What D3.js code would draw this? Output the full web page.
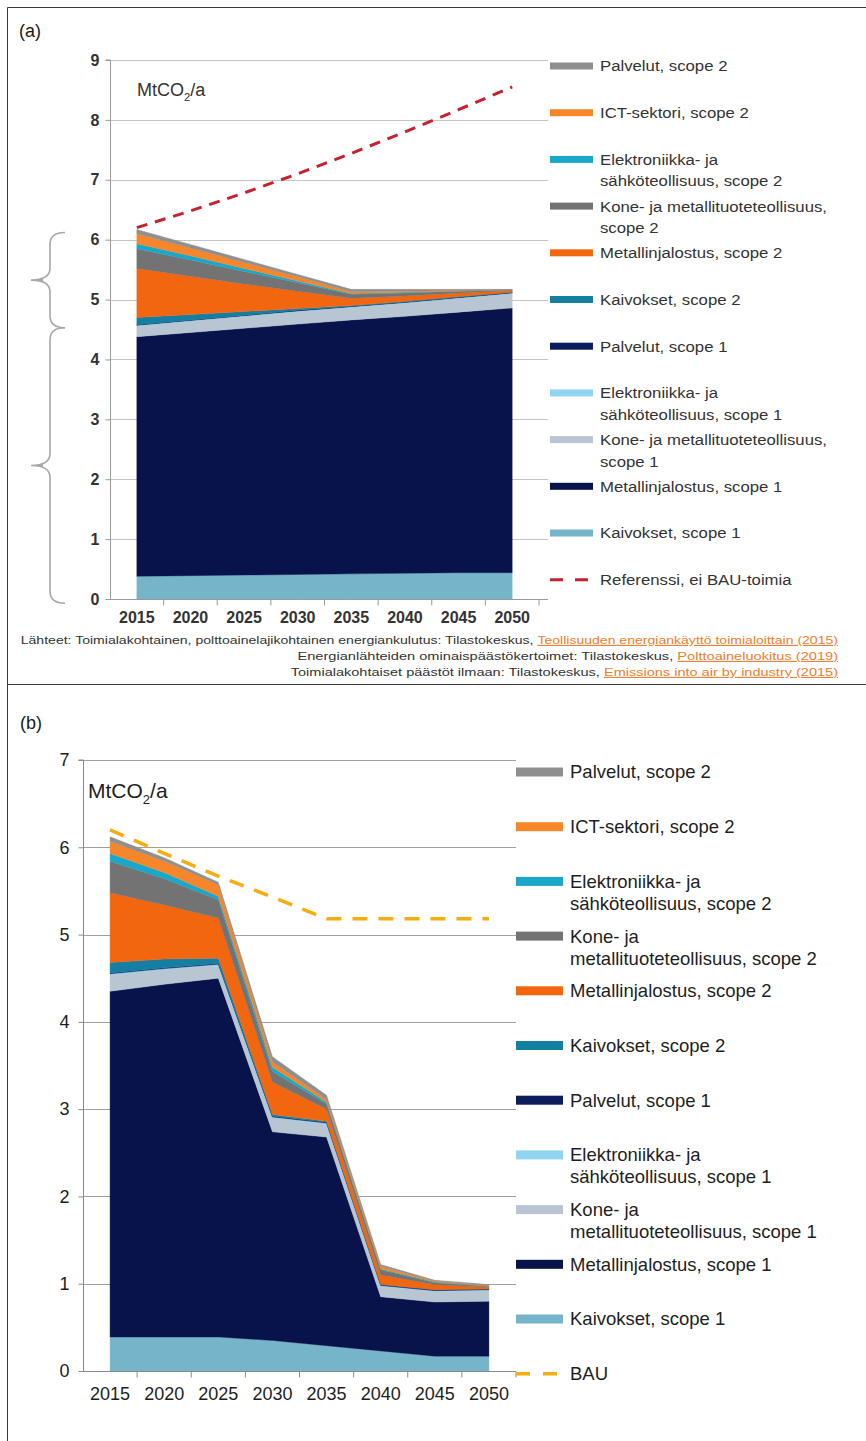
<!DOCTYPE html>
<html>
<head>
<meta charset="utf-8">
<script src="https://cdn.jsdelivr.net/npm/d3@7"></script>
<style>
  body { margin: 0; background: #fff; }
  svg { display: block; font-family: "Liberation Sans", Arial, Helvetica, sans-serif; }
</style>
</head>
<body>
<svg id="fig" width="866" height="1441"></svg>
<script>
// ---- categories ----
const years = ["2015", "2020", "2025", "2030", "2035", "2040", "2045", "2050"];

// ---- series keys, stacking order bottom -> top ----
const seriesKeys = ["kaiv1", "metj1", "kone1", "elek1", "palv1", "kaiv2", "metj2", "kone2", "elek2", "ict2", "palv2"];

// ---- (a) reference path, MtCO2/a per series ----
const aKaivokset1   = [0.38, 0.39, 0.40, 0.41, 0.42, 0.43, 0.44, 0.44];
const aMetalli1     = [4.00, 4.06, 4.12, 4.18, 4.24, 4.29, 4.35, 4.42];
const aKone1        = [0.18, 0.19, 0.20, 0.21, 0.21, 0.22, 0.23, 0.24];
const aElektro1     = [0.01, 0.01, 0.01, 0.01, 0.01, 0.01, 0.01, 0.01];
const aPalvelut1    = [0.01, 0.01, 0.01, 0.01, 0.01, 0.01, 0.01, 0.01];
const aKaivokset2   = [0.12, 0.09, 0.06, 0.03, 0.01, 0.01, 0.01, 0.00];
const aMetalli2     = [0.82, 0.64, 0.46, 0.29, 0.12, 0.09, 0.06, 0.03];
const aKone2        = [0.33, 0.27, 0.21, 0.14, 0.07, 0.05, 0.03, 0.01];
const aElektro2     = [0.08, 0.07, 0.05, 0.03, 0.01, 0.01, 0.00, 0.00];
const aIct2         = [0.17, 0.13, 0.10, 0.07, 0.03, 0.02, 0.01, 0.00];
const aPalvelut2    = [0.07, 0.06, 0.05, 0.04, 0.04, 0.03, 0.02, 0.01];
const aReferenssi   = [6.20, 6.48, 6.78, 7.10, 7.44, 7.80, 8.17, 8.55];

// ---- (b) with measures, MtCO2/a per series ----
const bKaivokset1   = [0.39, 0.39, 0.39, 0.35, 0.29, 0.23, 0.17, 0.17];
const bMetalli1     = [3.96, 4.04, 4.11, 2.39, 2.39, 0.62, 0.62, 0.63];
const bKone1        = [0.19, 0.17, 0.15, 0.16, 0.15, 0.12, 0.12, 0.12];
const bElektro1     = [0.01, 0.01, 0.01, 0.01, 0.01, 0.01, 0.01, 0.01];
const bPalvelut1    = [0.01, 0.01, 0.01, 0.01, 0.01, 0.01, 0.01, 0.01];
const bKaivokset2   = [0.12, 0.10, 0.06, 0.02, 0.01, 0.00, 0.00, 0.00];
const bMetalli2     = [0.80, 0.62, 0.46, 0.37, 0.14, 0.11, 0.06, 0.02];
const bKone2        = [0.36, 0.30, 0.21, 0.12, 0.06, 0.06, 0.02, 0.01];
const bElektro2     = [0.09, 0.07, 0.04, 0.05, 0.02, 0.01, 0.01, 0.00];
const bIct2         = [0.14, 0.13, 0.13, 0.06, 0.03, 0.03, 0.01, 0.01];
const bPalvelut2    = [0.05, 0.04, 0.03, 0.06, 0.05, 0.02, 0.01, 0.01];
const bBau          = [6.20, 5.93, 5.67, 5.43, 5.18, 5.18, 5.18, 5.18];

// ---- y-axis tick labels ----
const aTicks = [0, 1, 2, 3, 4, 5, 6, 7, 8, 9];
const bTicks = [0, 1, 2, 3, 4, 5, 6, 7];

// ---- legend labels (top -> bottom), line breaks as drawn ----
const aLegendLabels = [
  ["Palvelut, scope 2"],
  ["ICT-sektori, scope 2"],
  ["Elektroniikka- ja", "sähköteollisuus, scope 2"],
  ["Kone- ja metallituoteteollisuus,", "scope 2"],
  ["Metallinjalostus, scope 2"],
  ["Kaivokset, scope 2"],
  ["Palvelut, scope 1"],
  ["Elektroniikka- ja", "sähköteollisuus, scope 1"],
  ["Kone- ja metallituoteteollisuus,", "scope 1"],
  ["Metallinjalostus, scope 1"],
  ["Kaivokset, scope 1"],
  ["Referenssi, ei BAU-toimia"]
];
const bLegendLabels = [
  ["Palvelut, scope 2"],
  ["ICT-sektori, scope 2"],
  ["Elektroniikka- ja", "sähköteollisuus, scope 2"],
  ["Kone- ja", "metallituoteteollisuus, scope 2"],
  ["Metallinjalostus, scope 2"],
  ["Kaivokset, scope 2"],
  ["Palvelut, scope 1"],
  ["Elektroniikka- ja", "sähköteollisuus, scope 1"],
  ["Kone- ja", "metallituoteteollisuus, scope 1"],
  ["Metallinjalostus, scope 1"],
  ["Kaivokset, scope 1"],
  ["BAU"]
];

// ---- source notes under (a) ----
const sourceLines = [
  ["Lähteet: Toimialakohtainen, polttoainelajikohtainen energiankulutus: Tilastokeskus, ", "Teollisuuden energiankäyttö toimialoittain (2015)"],
  ["Energianlähteiden ominaispäästökertoimet: Tilastokeskus, ", "Polttoaineluokitus (2019)"],
  ["Toimialakohtaiset päästöt ilmaan: Tilastokeskus, ", "Emissions into air by industry (2015)"]
];

// ---- colours per series ----
const seriesColors = {
  kaiv1: "#76b4c9",
  metj1: "#07134a",
  kone1: "#b7c6d2",
  elek1: "#90d5ef",
  palv1: "#0b1d5c",
  kaiv2: "#157fa1",
  metj2: "#f2660f",
  kone2: "#737373",
  elek2: "#1ba7c9",
  ict2:  "#f7862b",
  palv2: "#8f8f8f"
};

function buildRows(cols) {
  return years.map((yr, i) => {
    const row = { year: yr };
    seriesKeys.forEach(k => { row[k] = cols[k][i]; });
    return row;
  });
}

const aRows = buildRows({
  kaiv1: aKaivokset1, metj1: aMetalli1, kone1: aKone1, elek1: aElektro1, palv1: aPalvelut1,
  kaiv2: aKaivokset2, metj2: aMetalli2, kone2: aKone2, elek2: aElektro2, ict2: aIct2, palv2: aPalvelut2
});
const bRows = buildRows({
  kaiv1: bKaivokset1, metj1: bMetalli1, kone1: bKone1, elek1: bElektro1, palv1: bPalvelut1,
  kaiv2: bKaivokset2, metj2: bMetalli2, kone2: bKone2, elek2: bElektro2, ict2: bIct2, palv2: bPalvelut2
});

const svg = d3.select("#fig");

// figure frame: outer left/top border and divider between the panels
svg.append("path")
  .attr("d", "M7.5,1441 V7.5 H866 M7.5,684.5 H866")
  .attr("fill", "none").attr("stroke", "#3a3a3a").attr("stroke-width", 1);

function drawPanel(cfg) {
  const g = svg.append("g");
  const x = d3.scaleBand().domain(years).range([cfg.x0, cfg.x1]).padding(0);
  const cx = d => x(d) + x.bandwidth() / 2;
  const y = d3.scaleLinear().domain([0, cfg.yMax]).range([cfg.yBottom, cfg.yTop]);

  // horizontal gridlines
  g.append("g").selectAll("line").data(cfg.ticks.filter(t => t > 0)).join("line")
    .attr("x1", cfg.x0).attr("x2", cfg.gridEnd)
    .attr("y1", d => Math.round(y(d)) + 0.5).attr("y2", d => Math.round(y(d)) + 0.5)
    .attr("stroke", cfg.gridColor).attr("stroke-width", 1);

  // stacked areas
  const stack = d3.stack().keys(seriesKeys);
  const layers = stack(cfg.rows);
  const area = d3.area()
    .x(d => cx(d.data.year))
    .y0(d => y(d[0]))
    .y1(d => y(d[1]));
  g.append("g").selectAll("path").data(layers).join("path")
    .attr("d", area)
    .attr("fill", d => seriesColors[d.key])
    .attr("stroke", d => seriesColors[d.key])
    .attr("stroke-width", 0.4);

  // dashed reference line
  const line = d3.line().x((d, i) => cx(years[i])).y(d => y(d));
  g.append("path").datum(cfg.lineValues)
    .attr("d", line)
    .attr("fill", "none")
    .attr("stroke", cfg.lineColor)
    .attr("stroke-width", cfg.lineWidth)
    .attr("stroke-dasharray", cfg.lineDash);

  // y axis
  const yAxis = d3.axisLeft(y).tickValues(cfg.ticks).tickSize(5).tickPadding(cfg.yPad).tickFormat(d3.format("d"));
  const ya = g.append("g").attr("transform", `translate(${cfg.x0 + 0.5},0)`).call(yAxis);
  ya.select(".domain").attr("stroke", cfg.axisColor).attr("d", `M-5,${y(cfg.yMax)}H0V${y(0)}`);
  ya.selectAll(".tick line").attr("stroke", cfg.axisColor);
  ya.selectAll(".tick text")
    .attr("fill", cfg.textColor)
    .style("font-size", cfg.yFont + "px")
    .style("font-weight", cfg.tickWeight);

  // x axis: labels at band centres, tick marks at band boundaries
  const xAxis = d3.axisBottom(x).tickSize(0).tickPadding(cfg.xPad);
  const xa = g.append("g").attr("transform", `translate(0,${Math.round(y(0)) + 0.5})`).call(xAxis);
  xa.select(".domain").attr("stroke", cfg.axisColor).attr("d", `M${cfg.x0},0H${cfg.gridEnd}`);
  xa.selectAll(".tick text")
    .attr("fill", cfg.textColor)
    .style("font-size", cfg.xFont + "px")
    .style("font-weight", cfg.tickWeight);
  xa.append("g").selectAll("line").data(years.slice(1).concat(["__end"])).join("line")
    .attr("x1", d => d === "__end" ? cfg.x1 : x(d))
    .attr("x2", d => d === "__end" ? cfg.x1 : x(d))
    .attr("y1", 0).attr("y2", 6)
    .attr("stroke", cfg.axisColor);

  // unit label
  const unit = g.append("text")
    .attr("x", cfg.unitX).attr("y", cfg.unitY)
    .attr("fill", cfg.textColor)
    .style("font-size", cfg.unitFont + "px");
  unit.append("tspan").text("MtCO");
  unit.append("tspan").attr("dy", cfg.unitFont * 0.3).style("font-size", (cfg.unitFont * 0.62) + "px").text("2");
  unit.append("tspan").attr("dy", -cfg.unitFont * 0.3).text("/a");

  // panel letter
  g.append("text").attr("x", cfg.letterX).attr("y", cfg.letterY)
    .attr("fill", "#1a1a1a").style("font-size", cfg.letterFont + "px").text(cfg.letter);

  // legend: series from top of stack downwards, then the dashed line
  const legendKeys = seriesKeys.slice().reverse().concat(["__line"]);
  const lg = g.append("g");
  legendKeys.forEach((k, i) => {
    const ly = cfg.legY0 + i * cfg.legStep;
    if (k === "__line") {
      lg.append("line")
        .attr("x1", cfg.legX).attr("x2", cfg.legX + cfg.legW)
        .attr("y1", ly).attr("y2", ly)
        .attr("stroke", cfg.lineColor).attr("stroke-width", cfg.lineWidth)
        .attr("stroke-dasharray", cfg.legDash);
    } else {
      lg.append("rect")
        .attr("x", cfg.legX).attr("y", ly - cfg.legH / 2)
        .attr("width", cfg.legW).attr("height", cfg.legH)
        .attr("fill", seriesColors[k]);
    }
    const t = lg.append("text")
      .attr("transform", `translate(${cfg.legX + cfg.legW + cfg.legGap},${ly}) scale(${cfg.legScaleX},1)`)
      .attr("fill", cfg.textColor)
      .style("font-size", cfg.legFont + "px");
    cfg.legendLabels[i].forEach((s, j) => {
      t.append("tspan").attr("x", 0).attr("y", j * cfg.legLine).attr("dy", "0.35em").text(s);
    });
  });

  return { x, y, g };
}

// ---------- panel (a) ----------
const pa = drawPanel({
  rows: aRows, lineValues: aReferenssi, ticks: aTicks, yMax: 9,
  x0: 110, x1: 539, gridEnd: 548, yBottom: 599, yTop: 60,
  gridColor: "#c4c4c4", axisColor: "#9a9a9a", textColor: "#333",
  yFont: 16, xFont: 16, tickWeight: "bold", yPad: 6, xPad: 12,
  lineColor: "#c8202c", lineWidth: 3, lineDash: "11,8",
  unitX: 137, unitY: 96, unitFont: 18,
  letter: "(a)", letterX: 19, letterY: 37, letterFont: 18,
  legendLabels: aLegendLabels, legX: 550, legW: 43, legH: 7, legGap: 7,
  legY0: 66, legStep: 46.7, legLine: 21.5, legFont: 15.5, legScaleX: 1.08,
  legDash: "13,12"
});

// braces grouping scope 2 and scope 1 parts of the 2015 stack
function brace(yTop, yBot) {
  const xs = 50, xe = 65, xt = 31, r = 12;
  const ym = (yTop + yBot) / 2;
  return `M${xe},${yTop} Q${xs},${yTop} ${xs},${yTop + r} L${xs},${ym - r} Q${xs},${ym} ${xt},${ym}` +
         ` M${xt + 12},${ym} L${xt},${ym} Q${xs},${ym} ${xs},${ym + r} L${xs},${yBot - r} Q${xs},${yBot} ${xe},${yBot}`;
}
const braceGroup = pa.g.append("g").attr("fill", "none").attr("stroke", "#a8a8a8").attr("stroke-width", 1.6);
braceGroup.append("path").attr("d", brace(pa.y(6.12), pa.y(4.53)));
braceGroup.append("path").attr("d", brace(pa.y(4.53), pa.y(-0.07)));

// source notes, right-aligned under the axis
const srcEnd = 838;
const srcY = [644, 660, 676];
const srcWidths = [818, 541, 548];
sourceLines.forEach((parts, i) => {
  const t = svg.append("text").attr("text-anchor", "end").style("font-size", "11px").attr("fill", "#333");
  t.append("tspan").text(parts[0]);
  t.append("tspan").attr("fill", "#ee7d2e").style("text-decoration", "underline").text(parts[1]);
  const w = t.node().getBBox().width;
  t.attr("transform", `translate(${srcEnd},${srcY[i]}) scale(${srcWidths[i] / w},1)`);
});

// ---------- panel (b) ----------
drawPanel({
  rows: bRows, lineValues: bBau, ticks: bTicks, yMax: 7,
  x0: 83, x1: 516, gridEnd: 516, yBottom: 1371, yTop: 760,
  gridColor: "#a0a0a0", axisColor: "#8a8a8a", textColor: "#1e1e1e",
  yFont: 18, xFont: 18, tickWeight: "normal", yPad: 9, xPad: 16,
  lineColor: "#f7ac10", lineWidth: 3.5, lineDash: "15,11",
  unitX: 88, unitY: 798, unitFont: 21,
  letter: "(b)", letterX: 20, letterY: 729, letterFont: 18,
  legendLabels: bLegendLabels, legX: 516, legW: 47, legH: 9, legGap: 7,
  legY0: 772, legStep: 54.7, legLine: 22, legFont: 18.5, legScaleX: 1,
  legDash: "14,13"
});
</script>
</body>
</html>
